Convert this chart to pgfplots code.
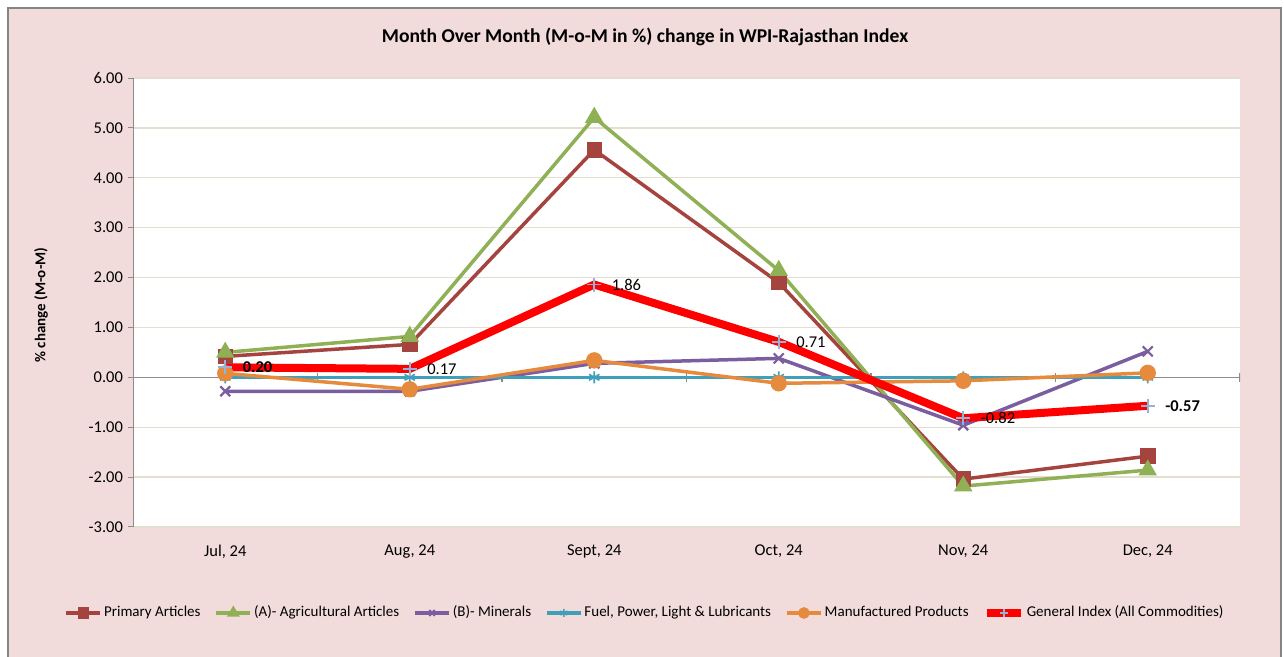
\documentclass[border=0pt]{standalone}
\usepackage{pgfplots}
\pgfplotsset{compat=1.18}
\usepackage{fontspec}
\setmainfont{Carlito}
\definecolor{pinkbg}{HTML}{F2DCDB}
\definecolor{gridc}{HTML}{E3DECF}
\definecolor{cprim}{HTML}{A5443F}
\definecolor{cagri}{HTML}{8FB055}
\definecolor{cmin}{HTML}{7B5EA0}
\definecolor{cfuel}{HTML}{40A0BA}
\definecolor{cmanu}{HTML}{E68A3E}
\definecolor{cgen}{HTML}{FF0000}
\definecolor{cgenm}{HTML}{95B3D7}
\begin{document}
\begin{tikzpicture}
\useasboundingbox (0pt,0pt) rectangle (642pt,328.5pt);
\fill[white] (0pt,0pt) rectangle (642pt,328.5pt);
\fill[pinkbg] (4pt,-5pt) rectangle (640.5pt,324.5pt);
\draw[black!48, line width=1pt] (4pt,-5pt) -- (4pt,324.5pt) -- (640.5pt,324.5pt) -- (640.5pt,-5pt);
\node[font=\bfseries\fontsize{9.8}{12}\selectfont] at (322.5pt,310pt) {Month Over Month (M-o-M in \%) change in WPI-Rajasthan Index};
\node[font=\bfseries\fontsize{7.5}{9}\selectfont, rotate=90] at (20.5pt,176pt) {\% change (M-o-M)};
\begin{axis}[
  at={(66.5pt,65pt)}, anchor=south west,
  width=553.5pt, height=224.5pt, scale only axis,
  xmin=-0.5, xmax=5.5, ymin=-3, ymax=6,
  axis background/.style={fill=white},
  axis line style={draw=none},
  xtick={0,1,2,3,4,5},
  xticklabels={{Jul, 24},{Aug, 24},{Sept, 24},{Oct, 24},{Nov, 24},{Dec, 24}},
  xtick style={draw=none},
  xticklabel style={font=\fontsize{8.25}{10}\selectfont, yshift=-3pt},
  ytick={-3,-2,-1,0,1,2,3,4,5,6},
  yticklabels={-3.00,-2.00,-1.00,0.00,1.00,2.00,3.00,4.00,5.00,6.00},
  yticklabel style={font=\fontsize{8.25}{10}\selectfont, xshift=1pt},
  ytick pos=left,
  tick align=outside,
  major tick length=2.5pt,
  ytick style={draw=black!45, line width=0.5pt},
  ymajorgrids,
  major grid style={draw=gridc, line width=0.7pt},
  legend style={at={(0.4634,-0.1915)}, anchor=center, draw=none, fill=none,
    font=\fontsize{7.5}{9}\selectfont, legend columns=6,
    /tikz/every even column/.append style={column sep=5pt},
    /tikz/every odd column/.append style={column sep=-1pt}},
  legend image post style={mark size=2pt},
  legend cell align=left,
]
\draw[black!45, line width=0.6pt] (rel axis cs:0,0) -- (rel axis cs:0,1);
\draw[black!45, line width=0.6pt] (axis cs:-0.5,0) -- (axis cs:5.5,0);
\draw[black!45, line width=0.6pt] ([yshift=-2.25pt]axis cs:0.5,0) -- ([yshift=2.25pt]axis cs:0.5,0);
\draw[black!45, line width=0.6pt] ([yshift=-2.25pt]axis cs:1.5,0) -- ([yshift=2.25pt]axis cs:1.5,0);
\draw[black!45, line width=0.6pt] ([yshift=-2.25pt]axis cs:2.5,0) -- ([yshift=2.25pt]axis cs:2.5,0);
\draw[black!45, line width=0.6pt] ([yshift=-2.25pt]axis cs:3.5,0) -- ([yshift=2.25pt]axis cs:3.5,0);
\draw[black!45, line width=0.6pt] ([yshift=-2.25pt]axis cs:4.5,0) -- ([yshift=2.25pt]axis cs:4.5,0);
\draw[black!45, line width=0.6pt] ([yshift=-2.25pt]axis cs:5.5,0) -- ([yshift=2.25pt]axis cs:5.5,0);
\addplot[cprim, line width=1.75pt, mark=square*, mark size=3pt, mark options={solid, fill=cprim}]
  coordinates {(0,0.42) (1,0.66) (2,4.56) (3,1.90) (4,-2.04) (5,-1.58)};
\addlegendentry{Primary Articles}
\addplot[cagri, line width=1.75pt, mark=triangle*, mark size=3.6pt, mark options={solid, fill=cagri}]
  coordinates {(0,0.50) (1,0.82) (2,5.21) (3,2.14) (4,-2.18) (5,-1.86)};
\addlegendentry{(A)- Agricultural Articles}
\addplot[cmin, line width=1.75pt, mark=x, mark size=3.5pt, mark options={solid, line width=1.1pt}]
  coordinates {(0,-0.28) (1,-0.28) (2,0.28) (3,0.38) (4,-0.96) (5,0.52)};
\addlegendentry{(B)- Minerals}
\addplot[cfuel, line width=1.6pt, mark=asterisk, mark size=3pt, mark options={solid, line width=0.8pt}]
  coordinates {(0,0.00) (1,0.00) (2,0.00) (3,0.00) (4,0.00) (5,0.00)};
\addlegendentry{Fuel, Power, Light \& Lubricants}
\addplot[cmanu, line width=1.75pt, mark=*, mark size=3.2pt, mark options={solid, fill=cmanu}]
  coordinates {(0,0.08) (1,-0.24) (2,0.34) (3,-0.12) (4,-0.07) (5,0.09)};
\addlegendentry{Manufactured Products}
\addplot[cgen, line width=4pt, mark=+, mark size=3.5pt, mark options={solid, draw=cgenm, line width=0.9pt},
  point meta=explicit symbolic, nodes near coords,
  every node near coord/.append style={anchor=west, xshift=5pt, yshift=0pt, text=black, font=\fontsize{8.25}{10}\selectfont}]
  coordinates {(0,0.20) [\textbf{0.20}] (1,0.17) [0.17] (2,1.86) [1.86] (3,0.71) [0.71] (4,-0.82) [-0.82] (5,-0.57) [\textbf{-0.57}]};
\addlegendentry{General Index (All Commodities)}
\end{axis}
\end{tikzpicture}
\end{document}
